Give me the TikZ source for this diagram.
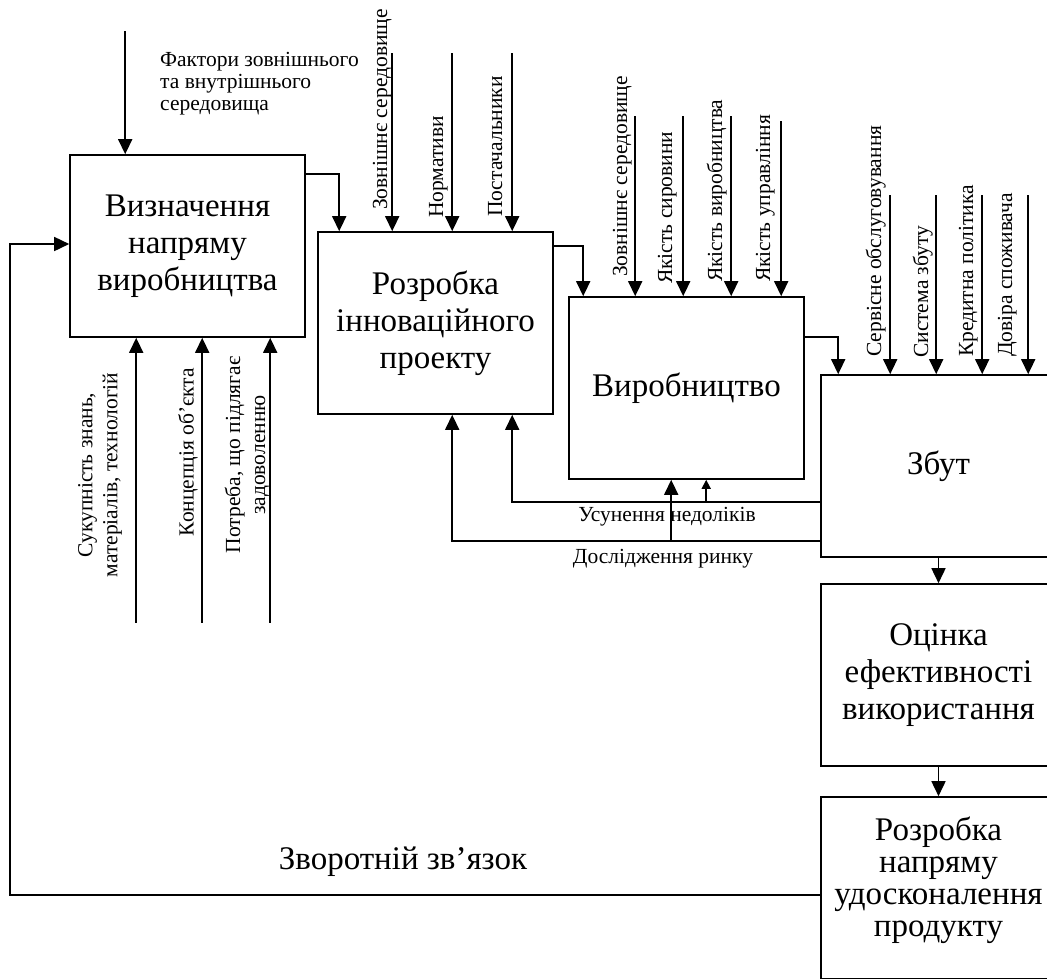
\documentclass[tikz,border=0pt]{standalone}
\usepackage{fontspec}
\setmainfont{Liberation Serif}
\usetikzlibrary{calc}
\usetikzlibrary{arrows.meta,positioning}

\tikzset{
  stage/.style={rectangle,draw=black,line width=1.6pt,minimum width=235pt,minimum height=182pt,align=center,inner sep=0pt,font=\fontsize{33}{37}\selectfont},
  arr/.style={line width=1.6pt,-{Triangle[length=15pt,width=14pt]}},
  smallarr/.style={line width=1.6pt,-{Triangle[length=9pt,width=9pt]}},
  vlabel/.style={rotate=90,anchor=base west,inner sep=0pt,font=\fontsize{21.5}{22}\selectfont},
  vblock/.style={rotate=90,align=center,inner sep=0pt,font=\fontsize{21.5}{25}\selectfont},
  hlabel/.style={inner sep=0pt,align=left,font=\fontsize{21.5}{22}\selectfont},
}

\begin{document}
\begin{tikzpicture}[x=1pt,y=-1pt]

\coordinate (LEFTCORNER) at (0,0);
\useasboundingbox (LEFTCORNER) rectangle ++(1047,978);
\clip (LEFTCORNER) rectangle ++(1047,978);

%draw stages
\node[stage] at ($(LEFTCORNER)+(187.5,246)$) (VYZN) {Визначення\\напряму\\виробництва};
\node[stage] at ($(LEFTCORNER)+(435.5,323)$) (ROZR) {Розробка\\інноваційного\\проекту};
\node[stage] at ($(LEFTCORNER)+(686.5,388)$) (VYRO) {Виробництво};
\node[stage] at ($(LEFTCORNER)+(938.5,466)$) (ZBUT) {Збут};
\node[stage] at ($(LEFTCORNER)+(938.5,675)$) (OCIN) {Оцінка\\ефективності\\використання};
\node[stage,font=\fontsize{33}{32}\selectfont,text depth=23pt] at ($(LEFTCORNER)+(938.5,888)$) (UDOS) {Розробка\\напряму\\удосконалення\\продукту};

%%%%%%%

%stage to stage
\draw[arr] ($(VYZN.north east)+(0,20)$) -| ($(ROZR.north west)+(22,0)$);
\draw[arr] ($(ROZR.north east)+(0,15)$) -| ($(VYRO.north west)+(15,0)$);
\draw[arr] ($(VYRO.north east)+(0,41)$) -| ($(ZBUT.north west)+(18,0)$);
\draw[arr] (ZBUT.south) -- (OCIN.north);
\draw[arr] (OCIN.south) -- (UDOS.north);

%inputs from the top
\coordinate (IN11) at ($(VYZN.north west)+(56,-123)$);
\draw[arr] (IN11) -- (IN11 |- VYZN.north);

\coordinate (IN21) at ($(ROZR.north west)+(75,-178)$);
\coordinate (IN22) at ($(ROZR.north west)+(135,-178)$);
\coordinate (IN23) at ($(ROZR.north west)+(195,-178)$);
\draw[arr] (IN21) -- (IN21 |- ROZR.north);
\draw[arr] (IN22) -- (IN22 |- ROZR.north);
\draw[arr] (IN23) -- (IN23 |- ROZR.north);

\coordinate (IN31) at ($(VYRO.north west)+(67,-180)$);
\coordinate (IN32) at ($(VYRO.north west)+(115,-180)$);
\coordinate (IN33) at ($(VYRO.north west)+(163,-180)$);
\coordinate (IN34) at ($(VYRO.north west)+(213,-175)$);
\draw[arr] (IN31) -- (IN31 |- VYRO.north);
\draw[arr] (IN32) -- (IN32 |- VYRO.north);
\draw[arr] (IN33) -- (IN33 |- VYRO.north);
\draw[arr] (IN34) -- (IN34 |- VYRO.north);

\coordinate (IN41) at ($(ZBUT.north west)+(70,-179)$);
\coordinate (IN42) at ($(ZBUT.north west)+(116,-179)$);
\coordinate (IN43) at ($(ZBUT.north west)+(162,-179)$);
\coordinate (IN44) at ($(ZBUT.north west)+(208,-179)$);
\draw[arr] (IN41) -- (IN41 |- ZBUT.north);
\draw[arr] (IN42) -- (IN42 |- ZBUT.north);
\draw[arr] (IN43) -- (IN43 |- ZBUT.north);
\draw[arr] (IN44) -- (IN44 |- ZBUT.north);

%inputs from below
\coordinate (BT1) at ($(VYZN.south west)+(67,285)$);
\coordinate (BT2) at ($(VYZN.south west)+(133,285)$);
\coordinate (BT3) at ($(VYZN.south west)+(201,285)$);
\draw[arr] (BT1) -- (BT1 |- VYZN.south);
\draw[arr] (BT2) -- (BT2 |- VYZN.south);
\draw[arr] (BT3) -- (BT3 |- VYZN.south);

%feedback lines
\coordinate (USUN) at ($(ZBUT.north west)+(0,128)$);
\coordinate (DOSL) at ($(ZBUT.north west)+(0,167)$);
\draw[arr] (USUN) -| ($(ROZR.south west)+(195,0)$);
\draw[arr] (DOSL) -| ($(ROZR.south west)+(135,0)$);
\coordinate (DOSLUP) at ($(VYRO.south west)+(103,0)$);
\coordinate (USUNUP) at ($(VYRO.south west)+(138,0)$);
\draw[arr] (DOSLUP |- DOSL) -- (DOSLUP);
\draw[smallarr] (USUNUP |- USUN) -- (USUNUP);

\coordinate (FBCORNER) at ($(LEFTCORNER)+(10,244)$);
\draw[arr] ($(UDOS.north west)+(0,99)$) -| (FBCORNER) -- (FBCORNER -| VYZN.west);

%labels
\node[hlabel,anchor=north west] at ($(LEFTCORNER)+(160,52)$) (FAKT) {Фактори зовнішнього\\та внутрішнього\\середовища};

\node[vlabel] at ($(LEFTCORNER)+(387,210)$) (L21) {Зовнішнє середовище};
\node[vlabel] at ($(LEFTCORNER)+(443,218)$) (L22) {Нормативи};
\node[vlabel] at ($(LEFTCORNER)+(502,217)$) (L23) {Постачальники};

\node[vlabel] at ($(LEFTCORNER)+(627,277)$) (L31) {Зовнішнє середовище};
\node[vlabel] at ($(LEFTCORNER)+(672,284)$) (L32) {Якість сировини};
\node[vlabel] at ($(LEFTCORNER)+(722,282)$) (L33) {Якість виробництва};
\node[vlabel] at ($(LEFTCORNER)+(770,282)$) (L34) {Якість управління};

\node[vlabel] at ($(LEFTCORNER)+(881,357)$) (L41) {Сервісне обслуговування};
\node[vlabel] at ($(LEFTCORNER)+(928,358)$) (L42) {Система збуту};
\node[vlabel] at ($(LEFTCORNER)+(973,357)$) (L43) {Кредитна політика};
\node[vlabel] at ($(LEFTCORNER)+(1012,357)$) (L44) {Довіра споживача};

\node[vblock] at ($(LEFTCORNER)+(100,475)$) (B1) {Сукупність знань,\\матеріалів, технологій};
\node[vblock] at ($(LEFTCORNER)+(188,452)$) (B2) {Концепція об’єкта};
\node[vblock] at ($(LEFTCORNER)+(247,455)$) (B3) {Потреба, що підлягає\\задоволенню};

\node[hlabel] at ($(LEFTCORNER)+(667,517)$) (USUNL) {Усунення недоліків};
\node[hlabel] at ($(LEFTCORNER)+(663,559)$) (DOSLL) {Дослідження ринку};
\node[hlabel,font=\fontsize{33}{36}\selectfont] at ($(LEFTCORNER)+(403,862)$) (FBL) {Зворотній зв’язок};

\end{tikzpicture}
\end{document}
